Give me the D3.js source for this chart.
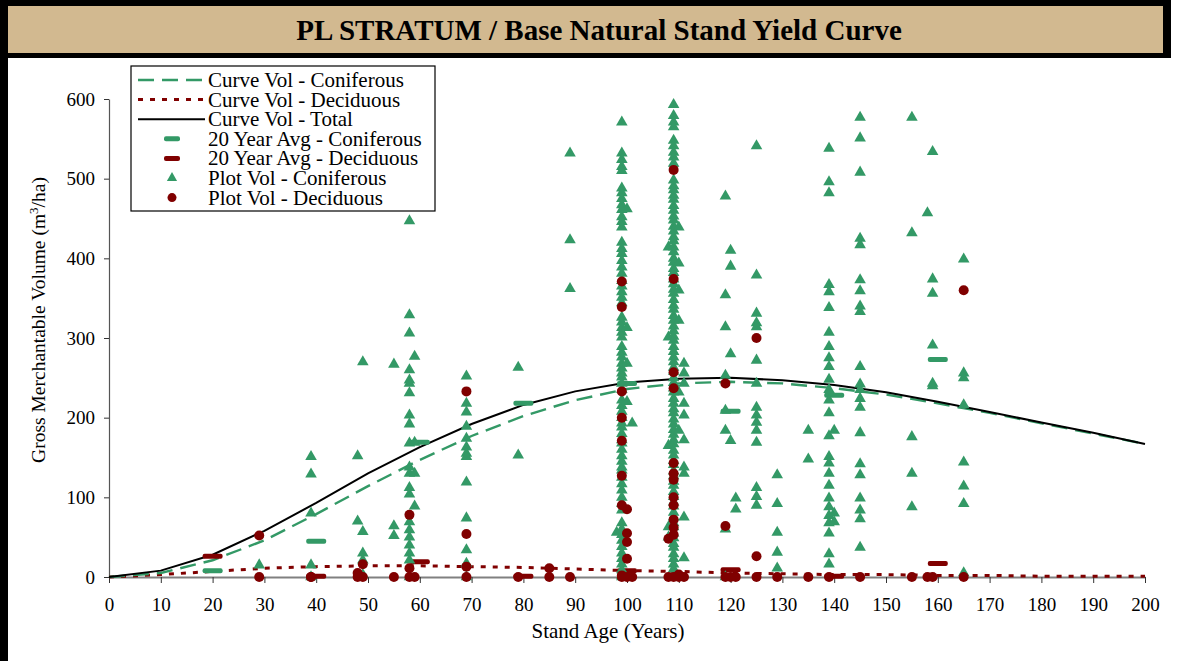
<!DOCTYPE html>
<html><head><meta charset="utf-8">
<script src="https://cdn.jsdelivr.net/npm/d3@7"></script>
<style>
html,body{margin:0;padding:0;background:#fff;}
svg{display:block;}
text{font-family:"Liberation Serif","Times New Roman",serif;fill:#000;}
</style></head>
<body>
<svg id="chart" width="1177" height="661"></svg>
<script>
// ---------- DATA ----------
const title = "PL STRATUM / Base Natural Stand Yield Curve";
const xLabel = "Stand Age (Years)";
const yLabelMain = "Gross Merchantable Volume (m";
const yLabelSup = "3";
const yLabelEnd = "/ha)";
const xTicks = [0,10,20,30,40,50,60,70,80,90,100,110,120,130,140,150,160,170,180,190,200];
const yTicks = [0,100,200,300,400,500,600];

const curveAges = [0,10,20,30,40,50,60,70,80,90,100,110,120,130,140,150,160,170,180,190,200];
const curveConiferous = [0,5,21,46,79,114,147,177,202,222,236,243,245,243,237,229,218,206,193,180,167];
const curveDeciduous  = [0,3,7,11,13,14,14,13,12,10,8,7,5,4,3,3,2,2,1,1,1];
const curveTotal      = [0,8,28,58,93,130,163,192,216,233,244,249,250,247,241,232,220,207,194,181,167];

const avgAges = [20,40,60,80,100,120,140,160];
const avgConiferous = [8,45,169,218,243,208,228,273];
const avgDeciduous  = [26,1,19,1,8,9,1,17];

// plot volumes grouped by stand age: [age, [volumes...]]
const plotConiferous = [
  [29,[15]],
  [39,[151,129,80,15,0]],
  [48,[152,70]],
  [49,[270,57,30,21,3]],
  [55,[267,64,52]],
  [58,[447,329,306,260,247,243,231,203,192,168,138,130,112,104,69,59,50,40,30,21,0]],
  [59,[277,169,130,89]],
  [69,[252,218,207,189,174,163,155,151,119,74,34,17,0]],
  [79,[263,153]],
  [89,[532,423,362]],
  [98,[56]],
  [99,[571,532,524,515,510,488,482,475,467,461,452,446,439,420,412,406,397,389,381,372,365,358,351,344,326,320,313,307,301,289,282,276,268,262,256,251,243,235,222,215,208,200,193,188,180,172,168,160,152,145,138,134,125,117,109,100,92,84,68,60,53,46,38,30,23,16,9,2,0]],
  [100,[462,313,268,220]],
  [101,[193]],
  [108,[414,301,165,63,50]],
  [109,[593,579,571,565,548,541,533,527,519,498,491,486,479,474,466,460,453,448,440,434,427,422,414,408,400,395,387,382,374,368,361,356,348,341,336,328,322,315,309,302,297,289,283,276,270,263,258,250,244,237,232,224,218,211,206,198,192,185,179,172,167,159,153,146,141,133,127,120,115,107,101,94,89,81,75,68,63,55,49,42,37,29,23,16,10,4,0]],
  [110,[439,394,360,322,232,184]],
  [111,[268,256,243,218,203,172,138,130,75,24]],
  [119,[478,354,314,253,209,184,60,0]],
  [120,[410,390,280,171]],
  [121,[99,85]],
  [125,[541,379,331,319,314,272,243,213,203,194,184,169,112,101,90]],
  [129,[128,92,56,31,11]],
  [135,[184,148]],
  [139,[538,496,482,367,358,338,307,289,275,264,248,235,222,206,177,151,143,130,115,99,88,77,68,55,29,16]],
  [140,[184,80,69]],
  [145,[577,551,508,425,417,373,359,340,333,264,242,235,224,213,181,142,128,99,84,73,37]],
  [155,[577,432,176,130,88]],
  [158,[457]],
  [159,[534,374,356,291,243,240]],
  [165,[399,256,250,216,144,114,92,5]]
];
const plotDeciduous = [
  [29,[52,0]],
  [39,[0,0]],
  [48,[5,0]],
  [49,[16,0]],
  [55,[0]],
  [58,[78,11,0]],
  [59,[0]],
  [69,[233,54,13,0]],
  [79,[0]],
  [85,[11,0]],
  [89,[0]],
  [99,[371,339,233,200,171,127,90,2,0]],
  [100,[85,55,44,23,0]],
  [101,[0]],
  [108,[48,0]],
  [109,[511,374,257,237,143,130,122,100,90,72,62,53,0]],
  [110,[0,3]],
  [111,[0]],
  [119,[243,64,0]],
  [120,[0]],
  [121,[0]],
  [125,[300,26,0]],
  [129,[0]],
  [135,[0]],
  [139,[0]],
  [145,[0]],
  [155,[0]],
  [158,[0]],
  [159,[0]],
  [165,[360,0]]
];

const legendItems = [
  {label:"Curve Vol - Coniferous", type:"dash"},
  {label:"Curve Vol - Deciduous", type:"dot"},
  {label:"Curve Vol - Total", type:"solid"},
  {label:"20 Year Avg - Coniferous", type:"barC"},
  {label:"20 Year Avg - Deciduous", type:"barD"},
  {label:"Plot Vol - Coniferous", type:"tri"},
  {label:"Plot Vol - Deciduous", type:"circ"}
];

// ---------- STYLE ----------
const GREEN = "#339966", MAROON = "#800000", TAN = "#D2B990";

const svg = d3.select("#chart");

// frame + title bar
svg.append("rect").attr("x",0).attr("y",0).attr("width",1171).attr("height",58).attr("fill","#000");
svg.append("rect").attr("x",8).attr("y",6).attr("width",1155).attr("height",47).attr("fill",TAN);
svg.append("rect").attr("x",0).attr("y",0).attr("width",8).attr("height",661).attr("fill","#000");
svg.append("text").attr("x",599).attr("y",40).attr("text-anchor","middle")
  .style("font-size","29px").style("font-weight","bold").text(title);

const x = d3.scaleLinear().domain([0,200]).range([109,1145]);
const y = d3.scaleLinear().domain([0,600]).range([577,99]);

// axes
const xAxis = svg.append("g").attr("transform",`translate(0,${y(0)})`)
  .call(d3.axisBottom(x).tickValues(xTicks).tickSize(6).tickSizeOuter(0).tickPadding(15));
xAxis.select(".domain").attr("stroke","#808080").attr("stroke-width",2);
xAxis.selectAll(".tick line").attr("stroke","#333");
xAxis.selectAll("text").style("font-size","19px").attr("font-family",null);

const yAxis = svg.append("g").attr("transform",`translate(${x(0)},0)`)
  .call(d3.axisLeft(y).tickValues(yTicks).tickSize(5).tickSizeOuter(0).tickPadding(9));
yAxis.select(".domain").attr("stroke","#555").attr("stroke-width",1.2);
yAxis.selectAll(".tick line").attr("stroke","#333");
yAxis.selectAll("text").style("font-size","19px").attr("font-family",null);

svg.append("text").attr("x",608).attr("y",638).attr("text-anchor","middle")
  .style("font-size","21px").text(xLabel);
const yl = svg.append("text").attr("transform","translate(45,320) rotate(-90)")
  .attr("text-anchor","middle").style("font-size","19.5px");
yl.append("tspan").text(yLabelMain);
yl.append("tspan").attr("dy",-7).style("font-size","13px").text(yLabelSup);
yl.append("tspan").attr("dy",7).text(yLabelEnd);

// curves
const lineGen = vals => d3.line().x((d,i)=>x(curveAges[i])).y(d=>y(d))(vals);
svg.append("path").attr("d",lineGen(curveDeciduous)).attr("fill","none")
  .attr("stroke",MAROON).attr("stroke-width",3).attr("stroke-dasharray","5,7");
svg.append("path").attr("d",lineGen(curveConiferous)).attr("fill","none")
  .attr("stroke",GREEN).attr("stroke-width",2.4).attr("stroke-dasharray","16,8");
svg.append("path").attr("d",lineGen(curveTotal)).attr("fill","none")
  .attr("stroke","#000").attr("stroke-width",2);

// 20-year averages
const barW = 20, barH = 5;
svg.append("g").selectAll("rect").data(avgAges.map((a,i)=>[a,avgConiferous[i]])).join("rect")
  .attr("x",d=>x(d[0])-barW/2).attr("y",d=>y(d[1])-barH/2).attr("width",barW).attr("height",barH)
  .attr("rx",2).attr("fill",GREEN);
svg.append("g").selectAll("rect").data(avgAges.map((a,i)=>[a,avgDeciduous[i]])).join("rect")
  .attr("x",d=>x(d[0])-barW/2).attr("y",d=>y(d[1])-barH/2).attr("width",barW).attr("height",barH)
  .attr("rx",2).attr("fill",MAROON);

// plot points
const flat = arr => arr.flatMap(([a,vs])=>vs.map(v=>[a,v]));
const tri = d3.symbol().type(d3.symbolTriangle).size(58);
svg.append("g").selectAll("path").data(flat(plotConiferous)).join("path")
  .attr("d",tri).attr("transform",d=>`translate(${x(d[0])},${y(d[1])})`).attr("fill",GREEN);
svg.append("g").selectAll("circle").data(flat(plotDeciduous)).join("circle")
  .attr("cx",d=>x(d[0])).attr("cy",d=>y(d[1])).attr("r",5).attr("fill",MAROON);

// legend
const lg = svg.append("g");
lg.append("rect").attr("x",131).attr("y",66).attr("width",304).attr("height",145)
  .attr("fill","#fff").attr("stroke","#000").attr("stroke-width",1.2);
legendItems.forEach((it,i)=>{
  const cy = 80 + i*19.6;
  const g = lg.append("g");
  if(it.type==="dash") g.append("line").attr("x1",138).attr("x2",203).attr("y1",cy).attr("y2",cy)
     .attr("stroke",GREEN).attr("stroke-width",2.6).attr("stroke-dasharray","16,8");
  if(it.type==="dot") g.append("line").attr("x1",138).attr("x2",205).attr("y1",cy).attr("y2",cy)
     .attr("stroke",MAROON).attr("stroke-width",3).attr("stroke-dasharray","5,7");
  if(it.type==="solid") g.append("line").attr("x1",138).attr("x2",205).attr("y1",cy).attr("y2",cy)
     .attr("stroke","#000").attr("stroke-width",2);
  if(it.type==="barC"||it.type==="barD") g.append("rect").attr("x",164).attr("y",cy-2.5)
     .attr("width",16).attr("height",5).attr("rx",2).attr("fill",it.type==="barC"?GREEN:MAROON);
  if(it.type==="tri") g.append("path").attr("d",d3.symbol().type(d3.symbolTriangle).size(45))
     .attr("transform",`translate(172,${cy})`).attr("fill",GREEN);
  if(it.type==="circ") g.append("circle").attr("cx",172).attr("cy",cy).attr("r",4.5).attr("fill",MAROON);
  g.append("text").attr("x",208).attr("y",cy+7).style("font-size","21px").text(it.label);
});
</script>
</body></html>
